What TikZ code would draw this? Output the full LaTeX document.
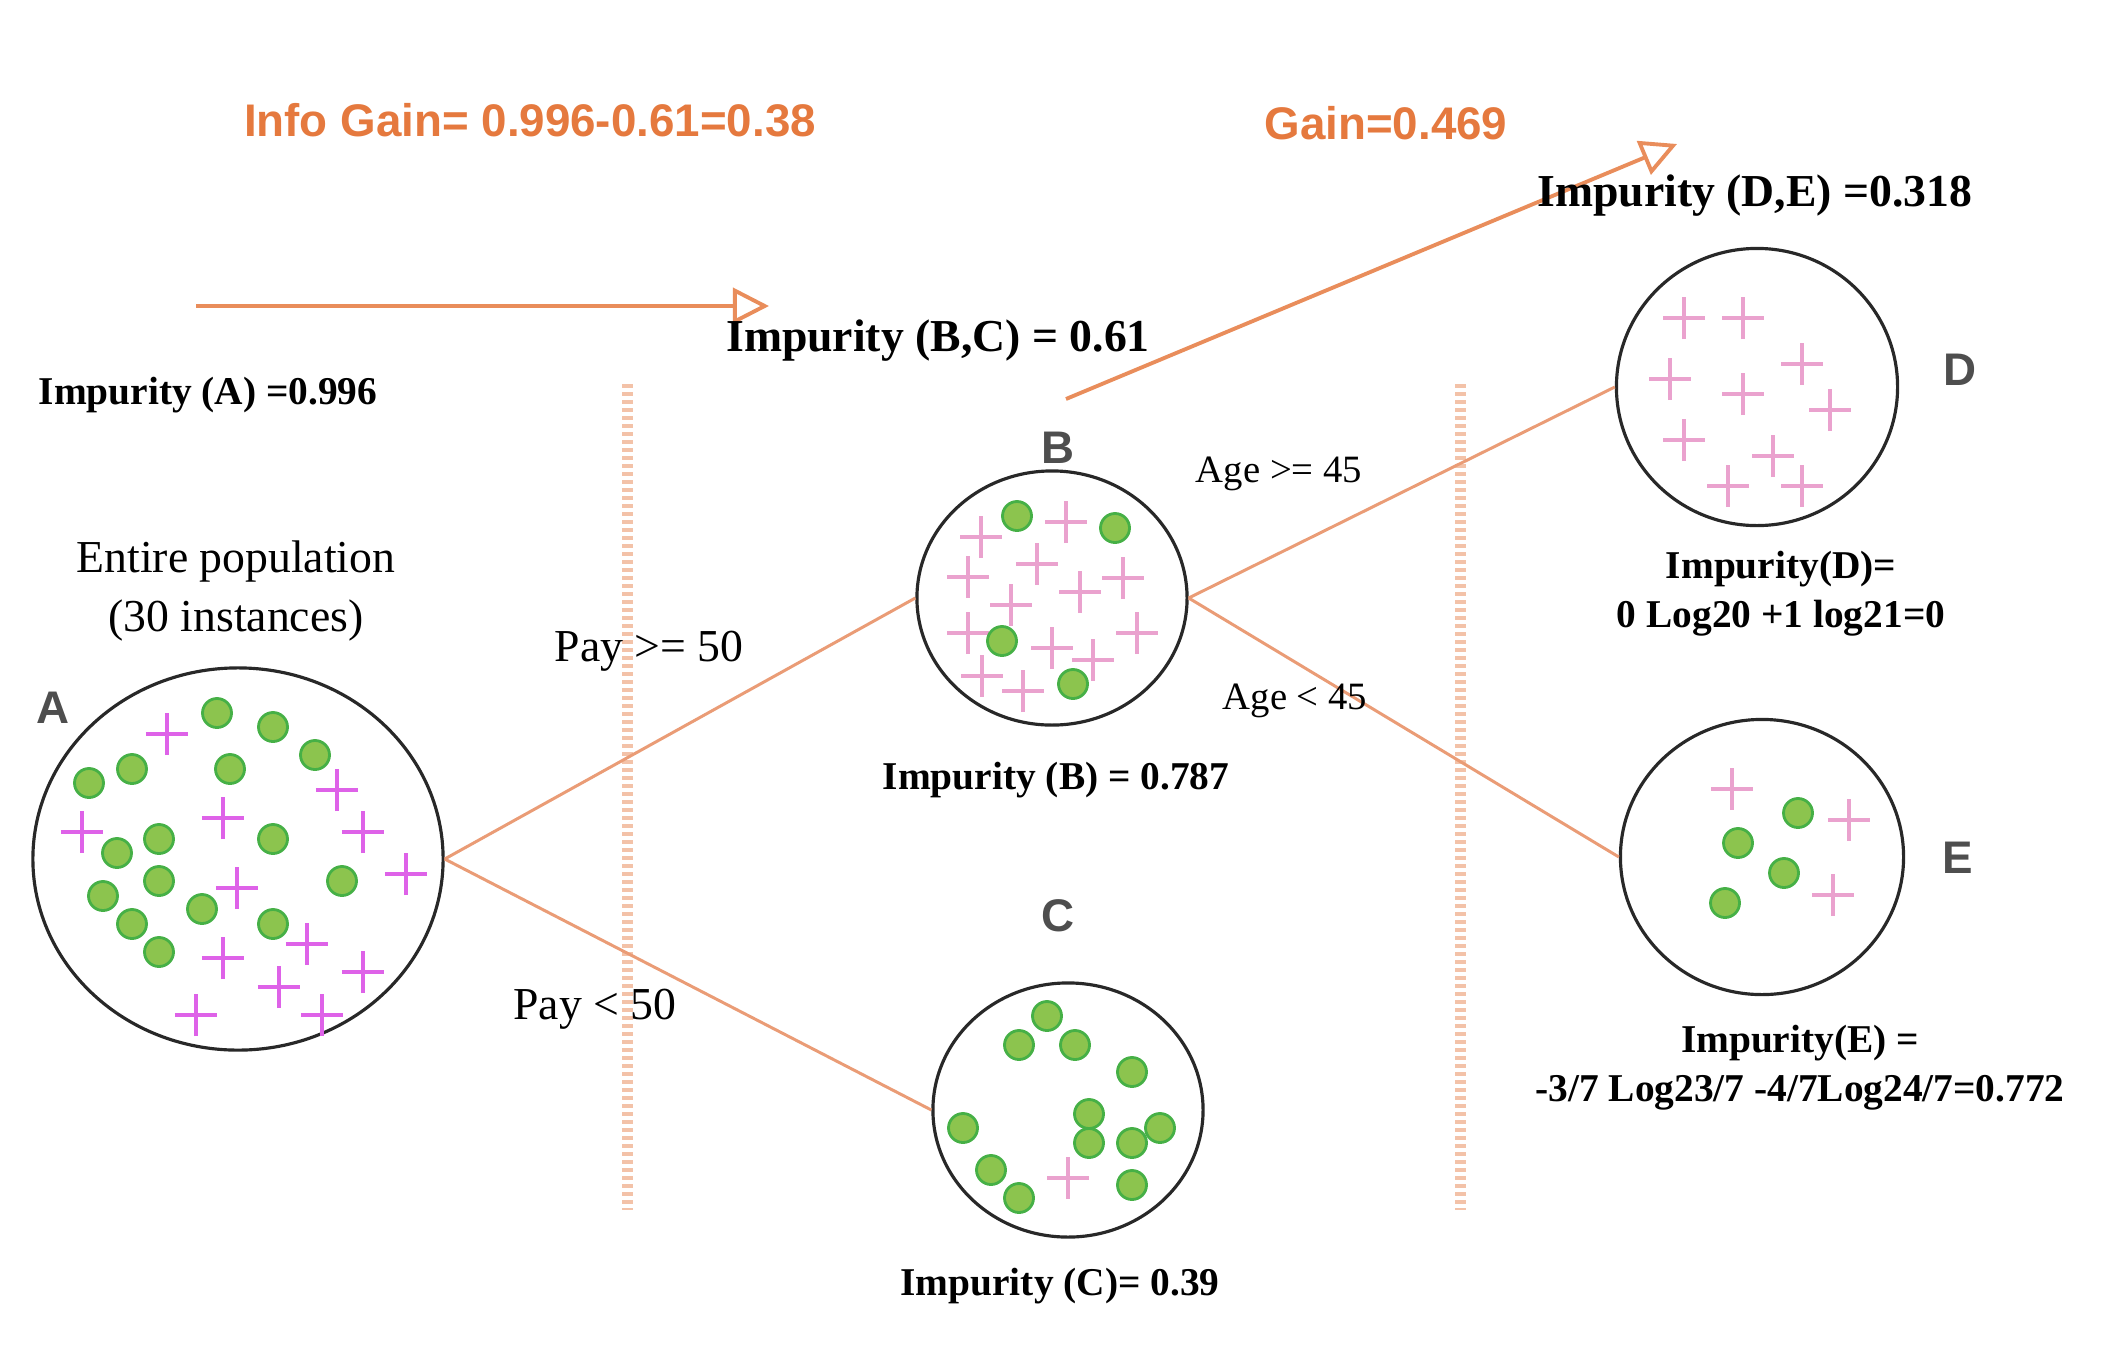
\documentclass[tikz,border=0pt]{standalone}
\usepackage{fontspec}
\setmainfont{Liberation Serif}
\newfontfamily\headsans{Liberation Sans}
\usetikzlibrary{arrows.meta,positioning,shapes.geometric}
\definecolor{gainorange}{RGB}{229,121,62}
\definecolor{branch}{RGB}{234,156,118}
\definecolor{sepline}{RGB}{243,194,168}
\definecolor{dotfill}{RGB}{140,196,78}
\definecolor{dotline}{RGB}{70,176,70}
\definecolor{plusA}{RGB}{222,98,232}
\definecolor{plusB}{RGB}{234,162,206}
\definecolor{letter}{RGB}{78,78,78}
\definecolor{rim}{RGB}{40,40,40}

\begin{document}
\begin{tikzpicture}[
    x=0.01cm, y=-0.01cm,
    pop/.style={draw=rim, ellipse, line width=0.9pt, inner sep=0pt},
    greendot/.style={fill=dotfill, draw=dotline, line width=0.8pt},
    plusmark/.pic={\draw (-0.21cm,0) -- (0.21cm,0) (0,-0.21cm) -- (0,0.21cm);},
    crossA/.style={color=plusA, line width=1.15pt},
    crossB/.style={color=plusB, line width=0.95pt},
    tag/.style={font=\headsans\bfseries\fontsize{13}{15}\selectfont, text=letter, inner sep=0pt},
    gain/.style={font=\headsans\bfseries\fontsize{13}{15}\selectfont, text=gainorange, inner sep=0pt},
    imp/.style={font=\bfseries\fontsize{11.2}{14}\selectfont, align=center, inner sep=0pt},
    bigimp/.style={font=\bfseries\fontsize{13}{15}\selectfont, inner sep=0pt},
    cond/.style={font=\fontsize{13}{17}\selectfont, align=center, inner sep=0pt},
    smallcond/.style={font=\fontsize{11}{13}\selectfont, inner sep=0pt},
    branchline/.style={draw=branch, line width=0.85pt},
    gainarrow/.style={draw=gainorange!85, line width=1.1pt, -{Triangle[open, length=0.36cm, width=0.36cm]}},
    divider/.style={draw=sepline, line width=0.11cm, dash pattern=on 0.04cm off 0.04cm}
]
\useasboundingbox (0,0) rectangle (2115,1348);

% split dividers
\coordinate (d1t) at (627,384);
\coordinate (d1b) at (627,1210);
\coordinate (d2t) at (1460,384);
\coordinate (d2b) at (1460,1210);
\draw[divider] (d1t) -- (d1b);
\draw[divider] (d2t) -- (d2b);

% populations
\node[pop, minimum width=4.10cm, minimum height=3.82cm] (A) at (238,859) {};
\node[pop, minimum width=2.70cm, minimum height=2.54cm] (B) at (1052,598) {};
\node[pop, minimum width=2.70cm, minimum height=2.54cm] (C) at (1068,1110) {};
\node[pop, minimum width=2.81cm, minimum height=2.77cm] (D) at (1757,387) {};
\node[pop, minimum width=2.83cm, minimum height=2.75cm] (E) at (1762,857) {};

\node[tag] (tA) at (53,708) {A};
\node[tag] (tB) at (1058,448) {B};
\node[tag] (tC) at (1058,916) {C};
\node[tag] (tD) at (1960,370) {D};
\node[tag] (tE) at (1958,858) {E};

% branches
\draw[branchline] (A.east) -- (B.west);
\draw[branchline] (A.east) -- (C.west);
\draw[branchline] (B.east) -- (D.west);
\draw[branchline] (B.east) -- (E.west);

% gain arrows
\coordinate (g1s) at (196,306);
\coordinate (g1e) at (769,306);
\coordinate (g2s) at (1066,399);
\coordinate (g2e) at (1677,144);
\draw[gainarrow] (g1s) -- (g1e);
\draw[gainarrow] (g2s) -- (g2e);

% members of A
\foreach \x/\y in {217/713, 273/727, 315/755, 89/783, 132/769, 230/769, 159/839, 117/853,
                   273/839, 159/881, 103/896, 202/909, 342/881, 132/924, 273/924, 159/952}
  \draw[greendot] (\x,\y) circle[radius=0.145cm];
\foreach \x/\y in {167/734, 337/790, 223/818, 82/832, 363/832, 406/874, 237/888,
                   307/944, 223/958, 363/972, 279/987, 196/1015, 322/1015}
  \pic[crossA] at (\x,\y) {plusmark};

% members of B
\foreach \x/\y in {981/537, 1066/522, 1037/564, 968/577, 1080/592, 1123/578, 1011/605,
                   968/633, 1052/648, 1137/633, 1093/660, 982/676, 1023/691}
  \pic[crossB] at (\x,\y) {plusmark};
\foreach \x/\y in {1017/516, 1115/528, 1002/641, 1073/684}
  \draw[greendot] (\x,\y) circle[radius=0.145cm];

% members of C
\foreach \x/\y in {1047/1016, 1019/1045, 1075/1045, 1132/1072, 1089/1114, 963/1128,
                   1089/1143, 1132/1143, 1160/1128, 991/1170, 1019/1198, 1132/1185}
  \draw[greendot] (\x,\y) circle[radius=0.145cm];
\pic[crossB] at (1068,1178) {plusmark};

% members of D
\foreach \x/\y in {1684/318, 1743/318, 1802/364, 1670/379, 1743/394, 1830/410,
                   1684/440, 1773/456, 1728/486, 1802/486}
  \pic[crossB] at (\x,\y) {plusmark};

% members of E
\foreach \x/\y in {1732/789, 1849/820, 1833/895}
  \pic[crossB] at (\x,\y) {plusmark};
\foreach \x/\y in {1798/813, 1738/843, 1784/873, 1725/903}
  \draw[greendot] (\x,\y) circle[radius=0.145cm];

% texts
\node[gain] (ig1) at (530,120) {Info Gain= 0.996-0.61=0.38};
\node[gain] (ig2) at (1386,123) {Gain=0.469};
\node[imp] (iA) at (208,395) {Impurity (A) =0.996};
\node[bigimp] (iBC) at (938,341) {Impurity (B,C) = 0.61};
\node[bigimp] (iDE) at (1755,196) {Impurity (D,E) =0.318};
\node[cond] (pop) at (236,591) {Entire population\\(30 instances)};
\node[cond] (c1) at (649,651) {Pay >= 50};
\node[cond] (c2) at (595,1009) {Pay < 50};
\node[smallcond] (c3) at (1279,474) {Age >= 45};
\node[smallcond] (c4) at (1295,701) {Age < 45};
\node[imp] (iB) at (1056,780) {Impurity (B) = 0.787};
\node[imp] (iC) at (1060,1286) {Impurity (C)= 0.39};
\node[imp] (iD) at (1781,594) {Impurity(D)=\\0 Log20 +1 log21=0};
\node[imp] (iE) at (1800,1068) {Impurity(E) =\\-3/7 Log23/7 -4/7Log24/7=0.772};
\end{tikzpicture}
\end{document}
